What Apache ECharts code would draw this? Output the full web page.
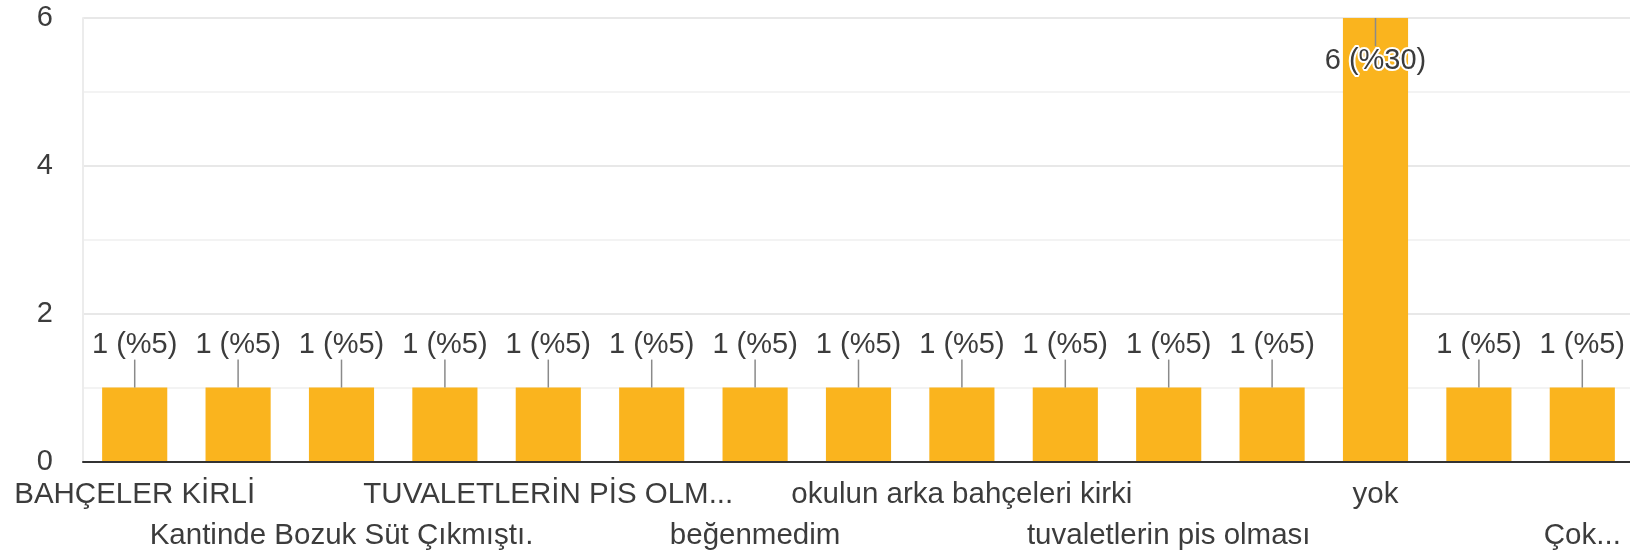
<!DOCTYPE html>
<html>
<head>
<meta charset="utf-8">
<script src="https://cdn.jsdelivr.net/npm/echarts@6/dist/echarts.min.js"></script>
<style>
html,body{margin:0;padding:0;background:#fff;}
#chart{width:1630px;height:556px;}
</style>
</head>
<body>
<div id="chart"></div>
<script>
const categories = [
  "BAHÇELER KİRLİ",
  "(gizli etiket 2)",
  "Kantinde Bozuk Süt Çıkmıştı.",
  "(gizli etiket 4)",
  "TUVALETLERİN PİS OLM...",
  "(gizli etiket 6)",
  "beğenmedim",
  "(gizli etiket 8)",
  "okulun arka bahçeleri kirki",
  "(gizli etiket 10)",
  "tuvaletlerin pis olması",
  "(gizli etiket 12)",
  "yok",
  "(gizli etiket 14)",
  "Çok..."
];
const counts = [1, 1, 1, 1, 1, 1, 1, 1, 1, 1, 1, 1, 6, 1, 1];
const yTicks = [0, 2, 4, 6];

const total = counts.reduce((a, b) => a + b, 0);
const FONT = "'Liberation Sans', Arial, sans-serif";
const TXT = '#3c3c3c';

function labelRow(rowIndex) {
  return {
    interval: (i) => i % 4 === rowIndex * 2,
    showMinLabel: rowIndex === 0 ? true : null,
    hideOverlap: false,
    margin: 13,
    color: TXT,
    fontFamily: FONT,
    fontSize: 29.5,
    lineHeight: 41,
    verticalAlign: 'top',
    formatter: (v) => (rowIndex === 1 ? '\n' + v : v)
  };
}

const chart = echarts.init(document.getElementById('chart'), null, {renderer: 'canvas'});
chart.setOption({
  animation: false,
  backgroundColor: '#fff',
  grid: {left: 83, top: 18, bottom: 94.5, width: 1551, containLabel: false, outerBoundsMode: 'none'},
  xAxis: [
    {
      type: 'category',
      data: categories,
      position: 'bottom',
      axisTick: {show: false},
      axisLine: {show: true, lineStyle: {color: '#333', width: 2}},
      axisLabel: labelRow(0),
      z: 3
    },
    {
      type: 'category',
      data: categories,
      position: 'bottom',
      axisTick: {show: false},
      axisLine: {show: false},
      splitLine: {show: false},
      axisLabel: labelRow(1)
    }
  ],
  yAxis: {
    type: 'value',
    min: yTicks[0],
    max: yTicks[yTicks.length - 1],
    interval: 2,
    axisLine: {show: true, lineStyle: {color: '#ececec', width: 2}},
    axisTick: {show: false},
    axisLabel: {color: TXT, fontFamily: FONT, fontSize: 29, margin: 30},
    splitLine: {lineStyle: {color: '#e8e8e8', width: 2}},
    minorTick: {show: false, splitNumber: 2},
    minorSplitLine: {show: true, lineStyle: {color: '#f3f3f3', width: 2}}
  },
  series: [
    {
      type: 'bar',
      xAxisIndex: 0,
      data: counts,
      barWidth: '63%',
      itemStyle: {color: '#FAB41E'},
      z: 2
    },
    {
      type: 'custom',
      xAxisIndex: 0,
      data: counts.map((v, i) => [i, v]),
      z: 5,
      renderItem: function (params, api) {
        const idx = api.value(0), v = api.value(1);
        const p = api.coord([idx, v]);
        const gridTop = params.coordSys.y;
        const down = (p[1] - 60) < gridTop;
        const dir = down ? 1 : -1;
        const pct = Math.round(v / total * 100);
        const label = v + ' (%' + pct + ')';
        return {
          type: 'group',
          children: [
            {
              type: 'line',
              shape: {x1: p[0], y1: p[1], x2: p[0], y2: p[1] + dir * 28},
              style: {stroke: '#8a8a8a', lineWidth: 1.5}
            },
            {
              type: 'text',
              style: {
                text: label,
                x: p[0],
                y: p[1] + dir * 43,
                align: 'center',
                verticalAlign: 'middle',
                font: '29px ' + FONT,
                fill: TXT,
                stroke: down ? '#fff' : null,
                lineWidth: down ? 4 : 0
              }
            }
          ]
        };
      }
    }
  ]
});
</script>
</body>
</html>
